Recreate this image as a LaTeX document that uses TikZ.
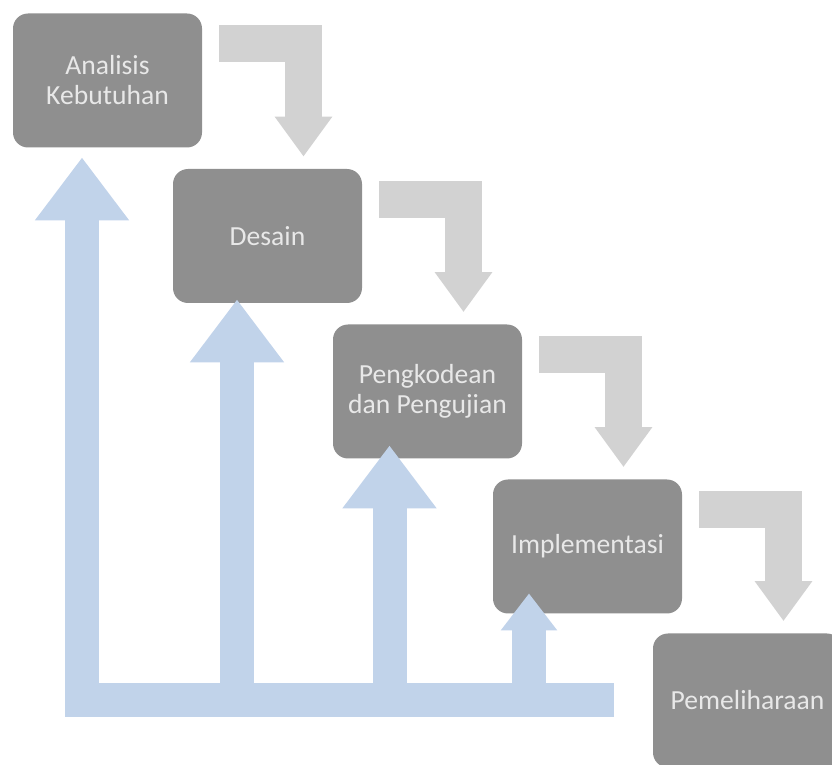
\documentclass[tikz,border=0pt]{standalone}
\usepackage{fontspec}
\setmainfont{Carlito}
\usetikzlibrary{arrows.meta,calc}
\definecolor{phasegray}{RGB}{143,143,143}
\definecolor{phasetext}{RGB}{232,232,232}
\definecolor{flowgray}{RGB}{210,210,210}
\definecolor{backblue}{RGB}{193,211,234}

\begin{document}
\begin{tikzpicture}[x=0.5pt,y=-0.5pt]

%
% Styles
%
\tikzstyle{phase} = [rectangle,rounded corners=7.5pt,fill=phasegray,text=phasetext,
  minimum width=94.5pt,minimum height=67pt,inner sep=0pt,align=center,
  font=\fontsize{13.8}{15}\selectfont]
\tikzstyle{flowarrow} = [draw=flowgray,line width=18.5pt,line join=miter,
  -{Triangle[width=27.5pt,length=20pt]}]
\tikzstyle{feedback} = [draw=backblue,line width=17pt,line join=miter,
  -{Triangle[width=45pt,length=31.5pt]}]

\useasboundingbox (0,0) rectangle (832,765);

\node[phase] (ana) at (107.5, 80.5) {Analisis\\Kebutuhan};
\node[phase] (des) at (267.5,236)   {Desain};
\node[phase] (pen) at (427.5,391.5) {Pengkodean\\dan Pengujian};
\node[phase] (imp) at (587.5,546.5) {Implementasi};
\node[phase] (pem) at (747.5,700.5) {Pemeliharaan};

\draw[flowarrow] ($(ana.east)+(17,-36.5)$) -| ($(des.north)+(36,-12)$);
\draw[flowarrow] ($(des.east)+(17,-36.5)$) -| ($(pen.north)+(36,-12)$);
\draw[flowarrow] ($(pen.east)+(17,-36.5)$) -| ($(imp.north)+(36,-12)$);
\draw[flowarrow] ($(imp.east)+(17,-36.5)$) -| ($(pem.north)+(36,-12)$);

\coordinate (bar) at (614,700);
\coordinate (t1) at ($(ana.south)+(-25.5,9.5)$);
\coordinate (t2) at ($(des.south)+(-30.5,-4)$);
\coordinate (t3) at ($(pen.south)+(-38,-13.5)$);
\coordinate (t4) at ($(imp.south)+(-58.5,-20.5)$);

\draw[feedback] (bar) -| (t1);
\draw[feedback] (t2 |- bar) -- (t2);
\draw[feedback] (t3 |- bar) -- (t3);
\draw[feedback,-{Triangle[width=27pt,length=18.5pt]}] (t4 |- bar) -- (t4);

\end{tikzpicture}
\end{document}
